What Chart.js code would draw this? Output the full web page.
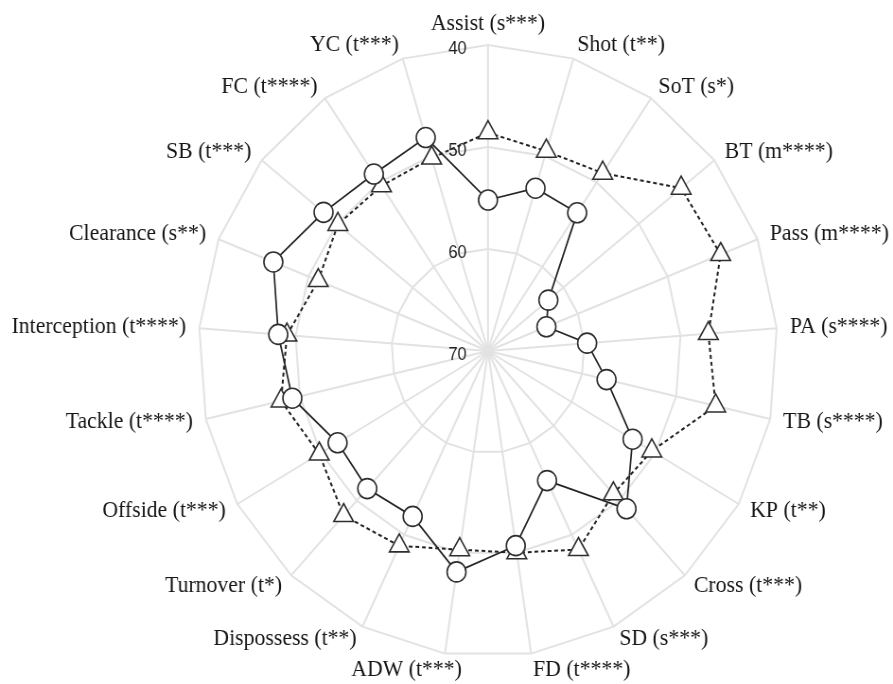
<!DOCTYPE html>
<html>
<head>
<meta charset="utf-8">
<script src="https://cdn.jsdelivr.net/npm/chart.js@4.4.1/dist/chart.umd.min.js"></script>
<style>
html, body { margin: 0; padding: 0; background: #ffffff; overflow: hidden; }
#frame { width: 893px; height: 684px; overflow: hidden; position: relative; }
#wrap { position: absolute; left: 0; top: 0; transform-origin: 0 0; }
canvas { display: block; }
</style>
</head>
<body>
<div id="frame"><div id="wrap"><canvas id="chart"></canvas></div></div>
<script>
// ---- data ----
const categories = [
  "Assist (s***)", "Shot (t**)", "SoT (s*)", "BT (m****)", "Pass (m****)",
  "PA (s****)", "TB (s****)", "KP (t**)", "Cross (t***)", "SD (s***)",
  "FD (t****)", "ADW (t***)", "Dispossess (t**)", "Turnover (t*)", "Offside (t***)",
  "Tackle (t****)", "Interception (t****)", "Clearance (s**)", "SB (t***)", "FC (t****)",
  "YC (t***)"
];
const circleValues = [
  55.2, 53.3, 53.6, 62.0, 63.5,
  59.7, 57.4, 52.7, 48.9, 55.9,
  50.7, 48.1, 52.0, 51.6, 52.0,
  49.2, 48.2, 46.1, 48.2, 49.0,
  48.1
];
const triangleValues = [
  48.6, 49.5, 48.9, 44.4, 44.1,
  47.1, 45.8, 50.4, 50.9, 48.4,
  50.0, 50.3, 48.8, 48.0, 49.8,
  48.0, 49.1, 51.1, 50.1, 50.4,
  50.2
];
const tickLabels = [40, 50, 60, 70];
const axisMin = 40;
const axisMax = 70;

// ---- layout ----
const SX = 0.946;                 // horizontal squeeze of the original picture
const W = Math.round(893 / SX);
const H = 684;
const CX = 488 / SX;
const CY = 351;
const R = 306;

const canvas = document.getElementById('chart');
canvas.width = W;
canvas.height = H;
canvas.style.width = W + 'px';
canvas.style.height = H + 'px';
document.getElementById('wrap').style.transform = 'scaleX(' + SX + ')';

const gridColor = '#e2e2e2';

const textPlugin = {
  id: 'textPlugin',
  beforeDatasetsDraw(chart) {
    const s = chart.scales.r;
    const ctx = chart.ctx;
    ctx.save();
    ctx.font = '17.5px "Liberation Sans", Arial, sans-serif';
    ctx.fillStyle = '#1f1f1f';
    ctx.textAlign = 'center';
    ctx.textBaseline = 'middle';
    tickLabels.forEach(v => {
      const d = s.getDistanceFromCenterForValue(v);
      ctx.fillText(String(v), s.xCenter - 30.5 / SX, s.yCenter - d + 4);
    });
    ctx.restore();
  },
  afterDraw(chart) {
    const s = chart.scales.r;
    const ctx = chart.ctx;
    ctx.save();
    ctx.font = '23px "Liberation Serif", "Times New Roman", serif';
    ctx.fillStyle = '#161616';
    const n = categories.length;
    categories.forEach((lab, i) => {
      const ang = i * 360 / n;
      if (i === 0) {
        const p = s.getPointPosition(i, s.drawingArea + 10);
        ctx.textAlign = 'center';
        ctx.textBaseline = 'bottom';
        ctx.fillText(lab, p.x, p.y);
      } else {
        const p = s.getPointPosition(i, s.drawingArea + 14);
        // the label just left of the bottom sits closer to the bottom spoke pair
        const nudge = (ang > 180 && ang < 195) ? 19 / SX : 0;
        ctx.textAlign = ang < 180 ? 'left' : 'right';
        ctx.textBaseline = 'middle';
        ctx.fillText(lab, p.x + nudge, p.y + (ang > 160 && ang < 200 ? 3 : 0));
      }
    });
    ctx.restore();
  }
};

new Chart(canvas.getContext('2d'), {
  type: 'radar',
  data: {
    labels: categories,
    datasets: [
      {
        data: circleValues,
        borderColor: '#222222',
        borderWidth: 1.7,
        fill: false,
        pointStyle: 'circle',
        pointRadius: 10,
        pointBackgroundColor: '#ffffff',
        pointBorderColor: '#2e2e2e',
        pointBorderWidth: 1.6
      },
      {
        data: triangleValues,
        borderColor: '#222222',
        borderWidth: 2,
        borderDash: [4, 3],
        fill: false,
        pointStyle: 'triangle',
        pointRadius: 12,
        pointBackgroundColor: '#ffffff',
        pointBorderColor: '#2e2e2e',
        pointBorderWidth: 1.6
      }
    ]
  },
  options: {
    responsive: false,
    animation: false,
    devicePixelRatio: 1,
    events: [],
    elements: { line: { tension: 0 } },
    plugins: { legend: { display: false }, tooltip: { enabled: false } },
    scales: {
      r: {
        min: axisMin,
        max: axisMax,
        reverse: true,
        ticks: { display: false, stepSize: 10 },
        grid: { color: gridColor, lineWidth: 2 },
        angleLines: { color: gridColor, lineWidth: 2 },
        pointLabels: { display: false },
        afterFit(scale) {
          scale.xCenter = CX;
          scale.yCenter = CY;
          scale.drawingArea = R;
        }
      }
    }
  },
  plugins: [textPlugin]
});
</script>
</body>
</html>
